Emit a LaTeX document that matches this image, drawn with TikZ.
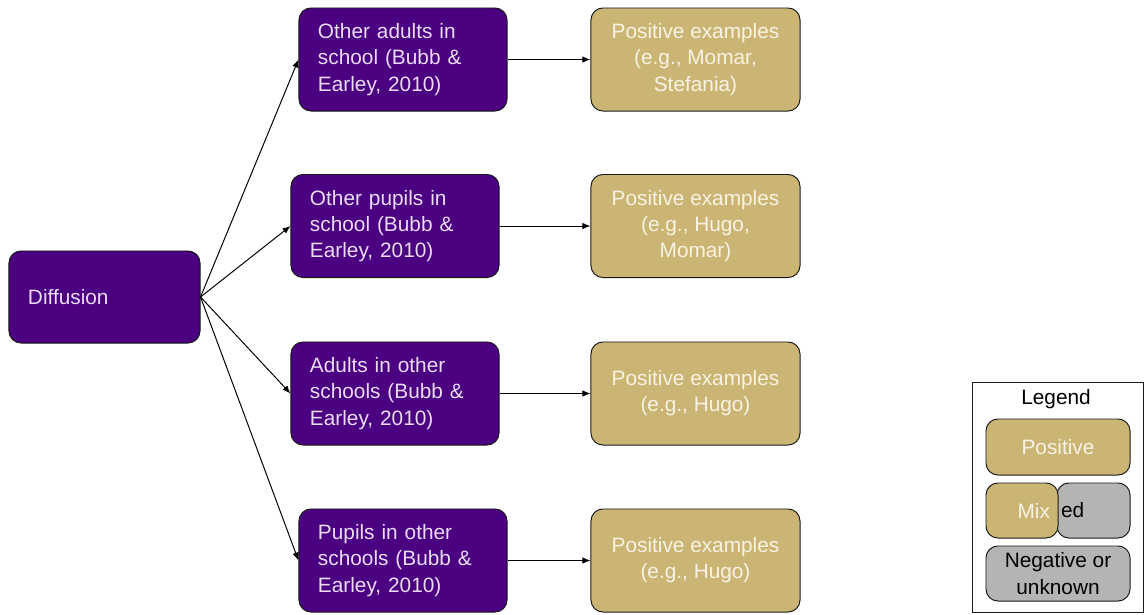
\documentclass[tikz,border=0pt]{standalone}
\usepackage{fontspec}
\setmainfont{Liberation Sans}
\usetikzlibrary{arrows.meta, positioning}
\definecolor{cpurple}{HTML}{4B0082}
\definecolor{ctan}{HTML}{CBB574}
\definecolor{cgrey}{HTML}{B4B4B4}
\definecolor{cline}{HTML}{1A1A1A}
\definecolor{clav}{HTML}{EADCF5}
\definecolor{ccream}{HTML}{F8F3E4}
\tikzset{
  every picture/.style={font=\fontsize{14.8}{18.6}\selectfont, line width=0.7pt},
  box/.style={draw=cline, fill=#1, rounded corners=8.5pt, inner sep=0pt},
  box/.default=cgrey,
  arrow/.style={-{Latex[length=2mm, width=1.6mm]}, draw=black, line width=0.7pt},
}

\begin{document}
\begin{tikzpicture}[x=0.025cm, y=-0.025cm]
  \tikzset{
    srcbox/.style={box=cpurple, text=clav, minimum height=2.575cm, text width=4.25cm, inner xsep=0.475cm, align=left},
    posbox/.style={box=ctan, text=ccream, minimum width=5.225cm, minimum height=2.575cm, align=center},
  }
  \useasboundingbox (0,0) rectangle (1144,614);
  \node[box=cpurple, text=clav, minimum height=2.3cm, text width=3.825cm, inner xsep=0.475cm, align=left] (diff) at (104.5,297) {Diffusion};
  \foreach \i/\x/\y/\s/\p in {
      1/403/59.5/{Other adults in\\school (Bubb \&\\Earley, 2010)}/{Positive examples\\(e.g., Momar,\\Stefania)},
      2/395/226/{Other pupils in\\school (Bubb \&\\Earley, 2010)}/{Positive examples\\(e.g., Hugo,\\Momar)},
      3/395/393.5/{Adults in other\\schools (Bubb \&\\Earley, 2010)}/{Positive examples\\(e.g., Hugo)},
      4/403/560.5/{Pupils in other\\schools (Bubb \&\\Earley, 2010)}/{Positive examples\\(e.g., Hugo)}}
  {
    \node[srcbox] (s\i) at (\x,\y) {\s};
    \node[posbox] (p\i) at (695.5,\y) {\p};
    \draw[arrow] (diff.east) -- (s\i.west);
    \draw[arrow] (s\i) -- (p\i);
  }
  % legend
  \node[draw=cline, minimum width=4.25cm, minimum height=5.725cm, inner sep=0pt] (legend) at (1058,497.5) {};
  \node[text=black] (lgtitle) at (1056,399) {Legend};
  \node[box=ctan, text=ccream, minimum width=3.6cm, minimum height=1.4cm] (lpos) at (1058,447) {Positive};
  \node[box=cgrey, minimum height=1.375cm, text width=1.625cm, inner xsep=0.1cm, align=left] (lmixb) at (1093.5,510.5) {ed};
  \node[box=ctan, text=ccream, minimum height=1.375cm, text width=1.4cm, inner xsep=0.2cm, align=right] (lmixa) at (1022,510.5) {Mix};
  \node[box=cgrey, minimum width=3.6cm, minimum height=1.375cm, align=center] (lneg) at (1058,573.5) {Negative or\\unknown};
\end{tikzpicture}
\end{document}
